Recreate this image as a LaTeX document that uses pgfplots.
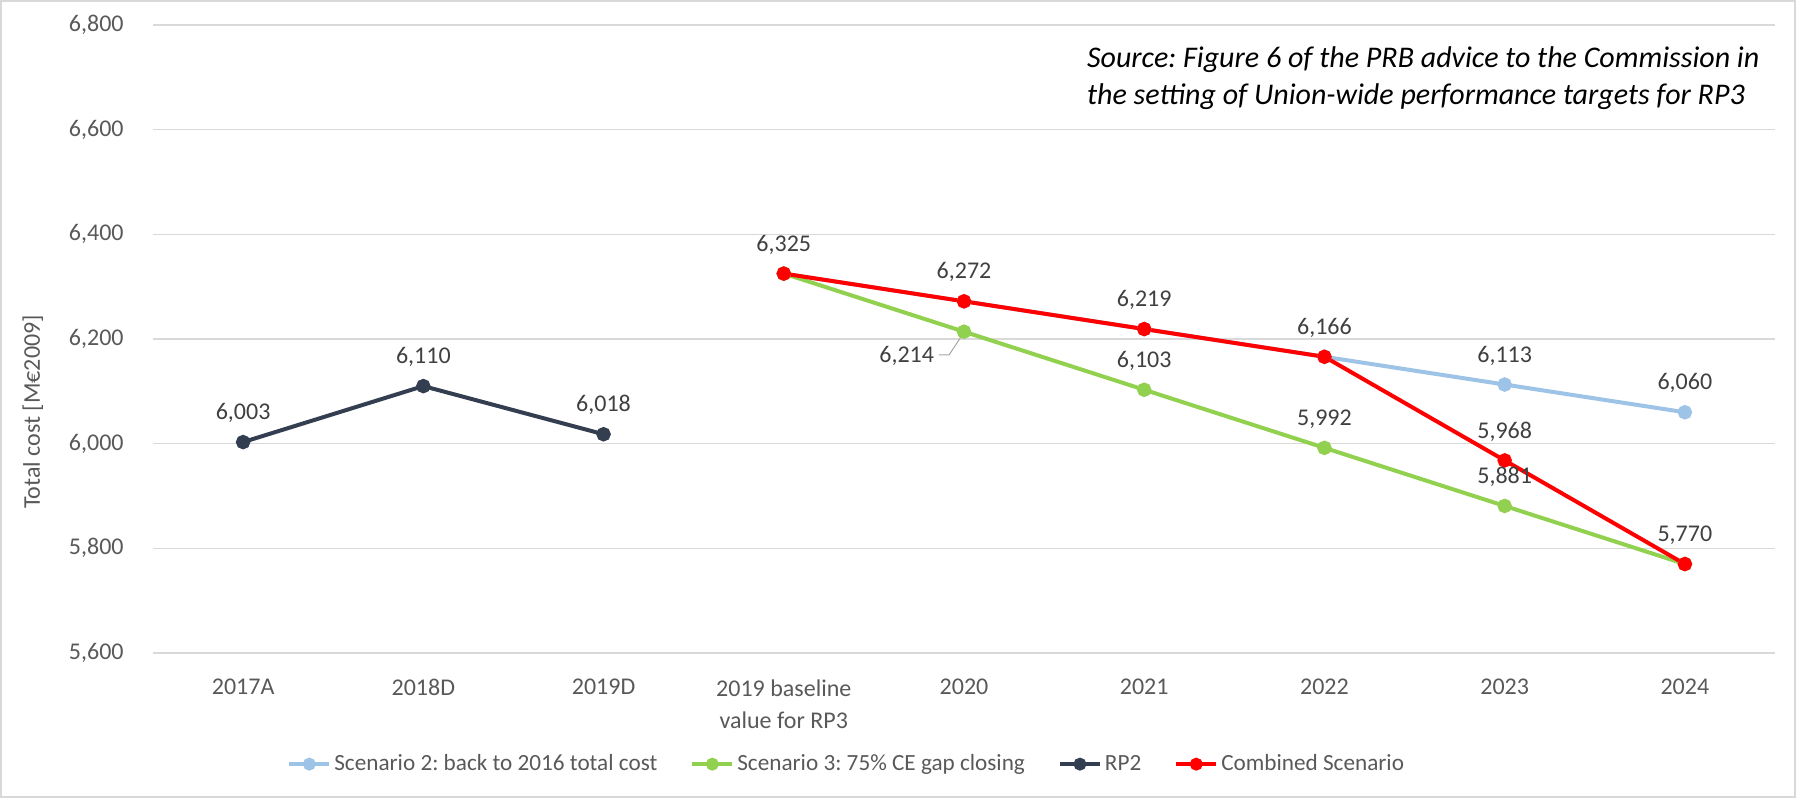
\documentclass[border=0pt]{standalone}
\usepackage{fontspec}
\setmainfont{Carlito}
\usepackage{pgfplots}
\pgfplotsset{compat=1.18}
\frenchspacing
\definecolor{scenB}{HTML}{9DC3E6}
\definecolor{scenG}{HTML}{92D050}
\definecolor{rpTwo}{HTML}{333F50}
\definecolor{combR}{HTML}{FF0000}
\definecolor{gridc}{HTML}{D9D9D9}
\definecolor{tickc}{HTML}{595959}
\definecolor{labc}{HTML}{404040}
\begin{document}
\begin{tikzpicture}
\path[use as bounding box] (0,0) rectangle (898pt,399pt);
\draw[gridc, line width=1pt] (0.5pt,0.5pt) rectangle (897.5pt,398.5pt);
\begin{axis}[
  at={(76.5pt,72.5pt)}, anchor=south west,
  scale only axis, width=811pt, height=314pt,
  xmin=-0.5, xmax=8.5, ymin=5600, ymax=6800,
  xtick={0,...,8},
  xticklabels={2017A,2018D,2019D,{2019 baseline\\value for RP3},2020,2021,2022,2023,2024},
  ytick={5600,5800,...,6800},
  major tick length=0pt,
  axis line style={draw=none},
  ymajorgrids, grid style={gridc, line width=0.75pt},
  /pgf/number format/assume math mode=true,
  /pgf/number format/1000 sep={,},
  tick label style={font=\fontsize{12}{16}\selectfont, text=tickc},
  xticklabel style={align=center, anchor=north, inner sep=0pt, yshift=-13pt},
  yticklabel style={anchor=east, inner sep=0pt, xshift=-14.5pt},
  every axis y label/.style={at={(axis description cs:-0.074,0.384)}, rotate=90, anchor=center, font=\fontsize{12}{14}\selectfont, text=tickc},
  ylabel={Total cost [M€2009]},
  clip=false,
  legend columns=4,
  legend style={at={(axis description cs:0.428,-0.177)}, anchor=center, draw=none, fill=none,
    font=\fontsize{11.6}{14}\selectfont, text=tickc,
    nodes={inner sep=1.5pt},
    /tikz/every even column/.append style={column sep=15pt}},
  legend image code/.code={\draw[mark repeat=2,mark phase=2,#1,mark size=2.2pt] plot coordinates {(0pt,0pt) (10pt,0pt) (20pt,0pt)};},
  every axis plot/.append style={line width=2pt, mark=*, mark size=2.6pt, mark options={solid}},
]
\addplot[scenB, mark options={fill=scenB, draw=scenB}] coordinates {(3,6325) (4,6272) (5,6219) (6,6166) (7,6113) (8,6060)};
\addlegendentry{Scenario 2: back to 2016 total cost}
\addplot[scenG, mark options={fill=scenG, draw=scenG}] coordinates {(3,6325) (4,6214) (5,6103) (6,5992) (7,5881) (8,5770)};
\addlegendentry{Scenario 3: 75\% CE gap closing}
\addplot[rpTwo, mark options={fill=rpTwo, draw=rpTwo}] coordinates {(0,6003) (1,6110) (2,6018)};
\addlegendentry{RP2}
\addplot[combR, mark options={fill=combR, draw=combR}] coordinates {(3,6325) (4,6272) (5,6219) (6,6166) (7,5968) (8,5770)};
\addlegendentry{Combined Scenario}
% data labels
\addplot[draw=none, mark=none, forget plot, point meta=y,
  nodes near coords, nodes near coords style={anchor=center, yshift=14.5pt, inner sep=0pt, font=\fontsize{12}{14}\selectfont, text=labc}]
  coordinates {(0,6003) (1,6110) (2,6018) (3,6325) (4,6272) (5,6219) (6,6166) (7,5968) (8,5770) (7,6113) (8,6060) (5,6103) (6,5992) (7,5881)};
\addplot[draw=none, mark=none, forget plot, point meta=y,
  nodes near coords, nodes near coords style={anchor=east, xshift=-14pt, yshift=-12pt, inner sep=0pt, font=\fontsize{12}{14}\selectfont, text=labc}]
  coordinates {(4,6214)};
\draw[gray!70, line width=0.5pt] (axis cs:3.861,6169.5) -- (axis cs:3.917,6169.5) -- (axis cs:3.985,6205);
\end{axis}
\node[anchor=west, align=left, font=\fontsize{15}{18.5}\selectfont\itshape, text=black] at (540pt,360pt)
  {Source: Figure 6 of the PRB advice to the Commission in\\the setting of Union-wide performance targets for RP3};
\end{tikzpicture}
\end{document}
